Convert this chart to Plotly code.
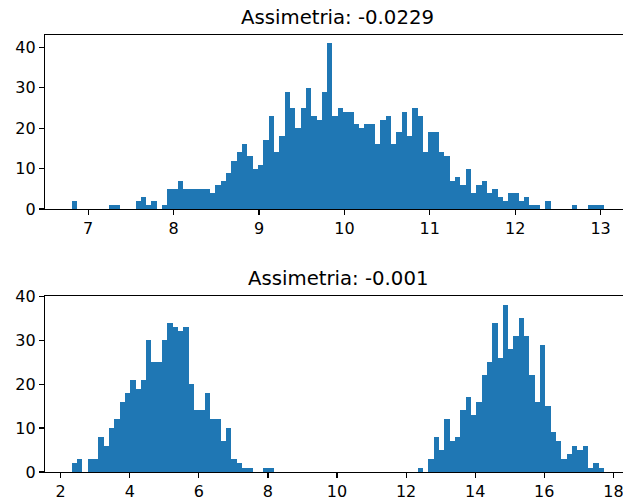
import plotly.graph_objects as go

# ---- data ----
top_title = "Assimetria: -0.0229"
top_start = 6.806
top_bin = 0.06234
top_counts = [2, 0, 0, 0, 0, 0, 0, 1, 1, 0,
              0, 0, 2, 3, 1, 2, 0, 1, 5, 5,
              7, 5, 5, 5, 5, 5, 4, 6, 7, 9,
              12, 14, 16, 13, 10, 11, 17, 23, 14, 18,
              29, 25, 20, 25, 30, 23, 22, 29, 41, 23,
              25, 24, 24, 21, 20, 21, 21, 16, 22, 23,
              16, 19, 24, 18, 25, 23, 14, 19, 19, 14,
              13, 7, 8, 6, 10, 4, 6, 7, 4, 5,
              3, 2, 4, 4, 2, 3, 1, 1, 0, 2,
              0, 0, 0, 0, 1, 0, 0, 1, 1, 1]
top_xticks = [7, 8, 9, 10, 11, 12, 13]
top_yticks = [0, 10, 20, 30, 40]

bot_title = "Assimetria: -0.001"
bot_start = 2.318
bot_bin = 0.1541
bot_counts = [2, 3, 0, 3, 3, 8, 6, 10, 12, 16,
              18, 21, 19, 21, 30, 25, 25, 30, 34, 33,
              32, 33, 20, 14, 14, 18, 12, 12, 7, 10,
              3, 2, 1, 1, 0, 0, 1, 1, 0, 0,
              0, 0, 0, 0, 0, 0, 0, 0, 0, 0,
              0, 0, 0, 0, 0, 0, 0, 0, 0, 0,
              0, 0, 0, 0, 0, 1, 0, 3, 8, 5,
              12, 7, 8, 14, 17, 13, 16, 22, 25, 34,
              26, 38, 28, 31, 35, 31, 22, 16, 29, 15,
              9, 7, 3, 4, 6, 5, 6, 1, 2, 1]
bot_xticks = [2, 4, 6, 8, 10, 12, 14, 16, 18]
bot_yticks = [0, 10, 20, 30, 40]

BLUE = "#1f77b4"
W, H = 623, 500
AX_L, AX_R_FULL = 45, 630.6   # axes pixel extent in the reference (cropped at 623)
ML, MR = AX_L, 0
MT, MB = 35, 0
TOP_Y0, TOP_Y1 = 35, 209      # pixel rows of top axes
BOT_Y0, BOT_Y1 = 296, 472     # pixel rows of bottom axes


def centers(start, size, n):
    return [start + size * (i + 0.5) for i in range(n)]


def view(start, size, n):
    lo, hi = start, start + size * n
    m = 0.05 * (hi - lo)
    full_lo, full_hi = lo - m, hi + m
    frac = (W - AX_L) / (AX_R_FULL - AX_L)
    return [full_lo, full_lo + (full_hi - full_lo) * frac]


fig = go.Figure()
fig.add_trace(go.Bar(x=centers(top_start, top_bin, len(top_counts)), y=top_counts,
                     width=top_bin, marker=dict(color=BLUE, line=dict(width=0)),
                     xaxis="x", yaxis="y", showlegend=False, hoverinfo="skip"))
fig.add_trace(go.Bar(x=centers(bot_start, bot_bin, len(bot_counts)), y=bot_counts,
                     width=bot_bin, marker=dict(color=BLUE, line=dict(width=0)),
                     xaxis="x2", yaxis="y2", showlegend=False, hoverinfo="skip"))

plot_top, plot_bot = MT, H - MB
plot_h = plot_bot - plot_top
top_dom = [(plot_bot - TOP_Y1) / plot_h, (plot_bot - TOP_Y0) / plot_h]
bot_dom = [(plot_bot - BOT_Y1) / plot_h, (plot_bot - BOT_Y0) / plot_h]

font = dict(family="DejaVu Sans", color="black")
axis_common = dict(showgrid=False, zeroline=False, showline=True, linecolor="black",
                   linewidth=1.2, ticks="outside", ticklen=5, tickwidth=1.2,
                   automargin=False, ticklabeloverflow="allow",
                   tickcolor="black", tickfont=dict(family="DejaVu Sans", size=16, color="black"))

fig.update_layout(
    width=W, height=H, margin=dict(l=ML, r=MR, t=MT, b=MB, pad=0, autoexpand=False),
    paper_bgcolor="white", plot_bgcolor="white", bargap=0, font=font,
    xaxis=dict(domain=[0, 1], anchor="y", range=view(top_start, top_bin, len(top_counts)),
               tickvals=top_xticks, mirror=True, **axis_common),
    yaxis=dict(domain=top_dom, anchor="x", range=[0, max(top_counts) * 1.05],
               tickvals=top_yticks, mirror=False, **axis_common),
    xaxis2=dict(domain=[0, 1], anchor="y2", range=view(bot_start, bot_bin, len(bot_counts)),
                tickvals=bot_xticks, mirror=True, **axis_common),
    yaxis2=dict(domain=bot_dom, anchor="x2", range=[0, max(max(bot_counts) * 1.05, 40.05)],
                tickvals=bot_yticks, mirror=False, **axis_common),
)

title_x = ((AX_R_FULL + AX_L) / 2 - AX_L) / (W - AX_L)
for text, dom in ((top_title, top_dom), (bot_title, bot_dom)):
    fig.add_annotation(text=text, xref="paper", yref="paper", x=title_x, y=dom[1],
                       xanchor="center", yanchor="bottom", yshift=4, showarrow=False,
                       font=dict(family="DejaVu Sans", size=19.7, color="black"))

fig.write_html("out.html",
               config={"displayModeBar": False, "staticPlot": True},
               post_script="document.body.style.margin='0';"
                           "document.body.style.overflow='hidden';")
